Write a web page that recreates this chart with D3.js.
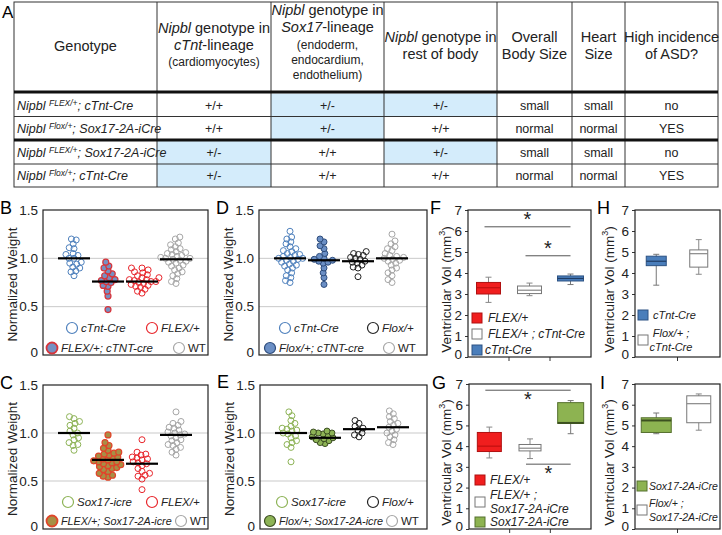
<!DOCTYPE html>
<html><head><meta charset="utf-8">
<script src="https://cdn.jsdelivr.net/npm/d3@7"></script>
<style>
body{margin:0;background:#fff;}
svg{display:block;font-family:"Liberation Sans",Arial,sans-serif;}
</style></head><body>
<svg id="c" width="722" height="535"></svg>
<script>
// ================= DATA =================
// Panel A table
const genoSup = ["FLEX/+", "Flox/+", "FLEX/+", "Flox/+"];
const genoCre = ["; cTnt-Cre", "; Sox17-2A-iCre", "; Sox17-2A-iCre", "; cTnt-Cre"];
const tableValues = [
  ["+/+", "+/-", "+/-", "small", "small", "no"],
  ["+/+", "+/-", "+/+", "normal", "normal", "YES"],
  ["+/-", "+/+", "+/-", "small", "small", "no"],
  ["+/-", "+/+", "+/+", "normal", "normal", "YES"]
];
// header lines: [ [text, italic], ... ] per line
const headerCols = [
  [[["Genotype", 0]]],
  [[["Nipbl", 1], [" genotype in", 0]], [["cTnt", 1], ["-lineage", 0]], [["(cardiomyocytes)", 0]]],
  [[["Nipbl", 1], [" genotype in", 0]], [["Sox17", 1], ["-lineage", 0]], [["(endoderm,", 0]], [["endocardium,", 0]], [["endothelium)", 0]]],
  [[["Nipbl", 1], [" genotype in", 0]], [["rest of body", 0]]],
  [[["Overall", 0]], [["Body Size", 0]]],
  [[["Heart", 0]], [["Size", 0]]],
  [[["High incidence", 0]], [["of ASD?", 0]]]
];

// Panel B
const groupsB = ["cTnt-Cre", "FLEX/+; cTNT-cre", "FLEX/+", "WT"];
const weightsB = [
  [1.2, 1.19, 1.15, 1.11, 1.1, 1.05, 1.04, 1.03, 1.0, 1.0, 0.96, 0.95, 0.94, 0.91, 0.9, 0.87, 0.86, 0.82],
  [0.96, 0.92, 0.9, 0.87, 0.84, 0.82, 0.8, 0.78, 0.77, 0.76, 0.75, 0.72, 0.71, 0.66, 0.61, 0.47],
  [0.9, 0.9, 0.88, 0.86, 0.85, 0.83, 0.82, 0.8, 0.8, 0.78, 0.78, 0.77, 0.76, 0.76, 0.75, 0.74, 0.73, 0.72, 0.71, 0.7, 0.68, 0.66, 0.64],
  [1.22, 1.2, 1.16, 1.14, 1.12, 1.1, 1.09, 1.07, 1.06, 1.05, 1.04, 1.03, 1.02, 1.01, 1.0, 1.0, 0.99, 0.98, 0.97, 0.96, 0.95, 0.93, 0.92, 0.9, 0.88, 0.86, 0.84, 0.82, 0.79, 0.76, 0.74]
];
const meansB = [1.0, 0.76, 0.76, 0.99];

// Panel D
const groupsD = ["cTnt-Cre", "Flox/+; cTNT-cre", "Flox/+", "WT"];
const weightsD = [
  [1.28, 1.22, 1.2, 1.17, 1.15, 1.12, 1.1, 1.08, 1.07, 1.05, 1.04, 1.03, 1.02, 1.01, 1.0, 1.0, 0.99, 0.98, 0.97, 0.96, 0.94, 0.93, 0.92, 0.9, 0.88, 0.85, 0.82, 0.8, 0.77, 0.75],
  [1.2, 1.17, 1.13, 1.1, 1.05, 1.02, 1.0, 0.99, 0.98, 0.97, 0.96, 0.95, 0.9, 0.85, 0.8, 0.73],
  [1.07, 1.05, 1.04, 1.03, 1.01, 1.0, 0.99, 0.97, 0.96, 0.95, 0.93, 0.91, 0.9, 0.81],
  [1.25, 1.18, 1.15, 1.12, 1.1, 1.08, 1.05, 1.03, 1.02, 1.01, 1.0, 0.99, 0.98, 0.97, 0.95, 0.93, 0.9, 0.88, 0.85, 0.82, 0.78, 0.75]
];
const meansD = [1.0, 0.98, 0.97, 1.0];

// Panel C
const groupsC = ["Sox17-icre", "FLEX/+; Sox17-2A-icre", "FLEX/+", "WT"];
const weightsC = [
  [1.17, 1.15, 1.12, 1.1, 1.08, 1.05, 1.02, 1.0, 0.98, 0.95, 0.93, 0.9, 0.88, 0.87, 0.82],
  [0.98, 0.9, 0.87, 0.84, 0.82, 0.8, 0.79, 0.78, 0.77, 0.76, 0.75, 0.74, 0.73, 0.72, 0.71, 0.7, 0.7, 0.69, 0.68, 0.67, 0.66, 0.65, 0.64, 0.63, 0.62, 0.6, 0.58, 0.56, 0.55, 0.54],
  [0.93, 0.8, 0.78, 0.77, 0.75, 0.74, 0.73, 0.72, 0.7, 0.69, 0.68, 0.66, 0.63, 0.6, 0.58, 0.56, 0.55, 0.52, 0.41],
  [1.22, 1.12, 1.1, 1.08, 1.06, 1.05, 1.03, 1.01, 1.0, 0.99, 0.98, 0.97, 0.95, 0.93, 0.92, 0.9, 0.88, 0.87, 0.85, 0.83, 0.8, 0.77]
];
const meansC = [1.0, 0.72, 0.68, 0.98];

// Panel E
const groupsE = ["Sox17-icre", "Flox/+; Sox17-2A-icre", "Flox/+", "WT"];
const weightsE = [
  [1.22, 1.18, 1.13, 1.1, 1.07, 1.05, 1.04, 1.03, 1.02, 1.0, 0.99, 0.97, 0.95, 0.92, 0.9, 0.88, 0.85, 0.7],
  [1.02, 1.01, 1.0, 1.0, 0.99, 0.97, 0.96, 0.95, 0.94, 0.93, 0.92, 0.9, 0.89],
  [1.13, 1.1, 1.07, 1.05, 1.03, 1.0, 0.98, 0.96],
  [1.23, 1.2, 1.17, 1.15, 1.12, 1.1, 1.08, 1.06, 1.04, 1.02, 1.0, 0.98, 0.96, 0.93, 0.9, 0.88]
];
const meansE = [1.0, 0.95, 1.04, 1.06];

const weightTicks = [0, 0.5, 1.0, 1.5];
const volTicks = [0, 1, 2, 3, 4, 5, 6, 7];

// Panel F  (min, q1, median, q3, max)
const catsF = ["FLEX/+", "FLEX/+ ; cTnt-Cre", "cTnt-Cre"];
const boxF = [
  [2.6, 3.0, 3.3, 3.55, 3.8],
  [2.92, 3.02, 3.18, 3.38, 3.52],
  [3.45, 3.62, 3.74, 3.86, 3.95]
];
// Panel G
const catsG = ["FLEX/+", "FLEX/+ ;\nSox17-2A-iCre", "Sox17-2A-iCre"];
const boxG = [
  [3.43, 3.74, 4.0, 4.66, 4.92],
  [3.4, 3.77, 3.9, 4.08, 4.35],
  [4.6, 5.1, 5.12, 6.1, 6.2]
];
// Panel H
const catsH = ["cTnt-Cre", "Flox/+ ;\ncTnt-Cre"];
const boxH = [
  [3.42, 4.35, 4.56, 4.8, 4.89],
  [3.94, 4.28, 4.92, 5.1, 5.59]
];
// Panel I
const catsI = ["Sox17-2A-iCre", "Flox/+ ;\nSox17-2A-iCre"];
const boxI = [
  [4.6, 4.66, 5.24, 5.37, 5.6],
  [4.77, 5.13, 6.05, 6.43, 6.52]
];

// ================= DRAW =================
const svg = d3.select("#c");

// ---------- Panel A: table ----------
const colX = [14, 157, 271, 384, 497, 572, 625, 718];
const tTop = 2, hdrBottom = 92, rowH = 23;
const rowTop = [93.5, 116.5, 141, 164];
const tBottom = 187;
const lightBlue = "#d4ecfb";

svg.append("text").attr("x", 2).attr("y", 18).attr("font-size", 17).text("A");

const tg = svg.append("g");
tableValues.forEach((row, r) => {
  row.forEach((v, c) => {
    const ci = c + 1;
    if (ci <= 3 && v === "+/-") {
      tg.append("rect").attr("x", colX[ci]).attr("y", rowTop[r])
        .attr("width", colX[ci + 1] - colX[ci]).attr("height", rowH).attr("fill", lightBlue);
    }
    tg.append("text").attr("x", (colX[ci] + colX[ci + 1]) / 2).attr("y", rowTop[r] + rowH / 2 + 4.5)
      .attr("text-anchor", "middle").attr("font-size", 12.5).attr("fill", "#222").text(v);
  });
  const t = tg.append("text").attr("x", 17).attr("y", rowTop[r] + rowH / 2 + 4.5)
    .attr("font-size", 12.5).attr("font-style", "italic").attr("fill", "#222");
  t.append("tspan").text("Nipbl\u00a0");
  t.append("tspan").attr("font-size", 8.5).attr("dy", -4).text(genoSup[r]);
  t.append("tspan").attr("dy", 4).text(genoCre[r]);
});
// borders
tg.append("rect").attr("x", colX[0]).attr("y", tTop).attr("width", colX[7] - colX[0])
  .attr("height", tBottom - tTop).attr("fill", "none").attr("stroke", "#333").attr("stroke-width", 1);
colX.slice(1, 7).forEach(x => tg.append("line").attr("x1", x).attr("x2", x).attr("y1", tTop).attr("y2", tBottom)
  .attr("stroke", "#333").attr("stroke-width", 1));
tg.append("line").attr("x1", colX[0]).attr("x2", colX[7]).attr("y1", hdrBottom).attr("y2", hdrBottom)
  .attr("stroke", "#111").attr("stroke-width", 3);
tg.append("line").attr("x1", colX[0]).attr("x2", colX[7]).attr("y1", 116.5).attr("y2", 116.5)
  .attr("stroke", "#333").attr("stroke-width", 1);
tg.append("line").attr("x1", colX[0]).attr("x2", colX[7]).attr("y1", 140).attr("y2", 140)
  .attr("stroke", "#111").attr("stroke-width", 3);
tg.append("line").attr("x1", colX[0]).attr("x2", colX[7]).attr("y1", 164).attr("y2", 164)
  .attr("stroke", "#333").attr("stroke-width", 1);
// header text
const hdrLineY = [
  [51],
  [33, 50, 66],
  [15, 32, 49, 64, 79],
  [42, 59],
  [42, 59],
  [42, 59],
  [42, 59]
];
headerCols.forEach((lines, c) => {
  const cx = (colX[c] + colX[c + 1]) / 2;
  lines.forEach((segs, i) => {
    const small = (c === 1 && i === 2) || (c === 2 && i >= 2);
    const t = tg.append("text").attr("x", cx).attr("y", hdrLineY[c][i])
      .attr("text-anchor", "middle").attr("font-size", small ? 12 : 14.5).attr("fill", "#222");
    segs.forEach(s => t.append("tspan").attr("font-style", s[1] ? "italic" : "normal").text(s[0]));
  });
});

// ---------- swarm helper ----------
function swarm(vals, y, d) {
  const pts = vals.map(v => ({ v, y: y(v), x: 0 })).sort((a, b) => a.v - b.v);
  const placed = [];
  for (const p of pts) {
    const ints = [];
    for (const q of placed) {
      const dy = Math.abs(q.y - p.y);
      if (dy < d) { const dx = Math.sqrt(d * d - dy * dy); ints.push([q.x - dx, q.x + dx]); }
    }
    const cands = [0];
    ints.forEach(([a, b]) => cands.push(a, b));
    cands.sort((a, b) => Math.abs(a) - Math.abs(b));
    for (const c of cands) {
      if (ints.every(([a, b]) => c <= a + 1e-6 || c >= b - 1e-6)) { p.x = c; break; }
    }
    placed.push(p);
  }
  return pts;
}

// ---------- dot panels ----------
function dotPanel(cfg) {
  const { x0, x1, y0, y1, groups, values, means, styles, letter, lx, ly, legend } = cfg;
  const g = svg.append("g");
  const y = d3.scaleLinear().domain([0, 1.5]).range([y1, y0]);
  const x = d3.scalePoint().domain(groups).range([x0 + 31, x0 + 133]);
  // grid
  [0.5, 1.0].forEach(v => g.append("line").attr("x1", x0).attr("x2", x1).attr("y1", y(v)).attr("y2", y(v))
    .attr("stroke", "#c9c9c9").attr("stroke-width", 1));
  // axis labels
  const ax = g.append("g").attr("transform", `translate(${x0},0)`)
    .call(d3.axisLeft(y).tickValues(weightTicks).tickSize(0).tickPadding(5)
      .tickFormat(d => d === 0 ? "0" : d3.format(".1f")(d)));
  ax.select(".domain").remove();
  ax.selectAll("text").attr("font-size", 13.5).attr("fill", "#222")
    .attr("font-family", '"Liberation Sans", Arial, sans-serif');
  ax.selectAll(".tick").filter(d => d === 0).select("text").attr("dy", "0.1em");
  // y title
  g.append("text").attr("transform", `translate(${x0 - 26},${(y0 + y1) / 2 + 2}) rotate(-90)`)
    .attr("text-anchor", "middle").attr("font-size", 13.5).attr("fill", "#222").text("Normalized Weight");
  // dots
  groups.forEach((gname, i) => {
    const pts = swarm(values[i], y, 4.9);
    g.append("g").selectAll("circle").data(pts).join("circle")
      .attr("cx", d => x(gname) + d.x).attr("cy", d => d.y).attr("r", 3)
      .attr("fill", styles[i].fill).attr("stroke", styles[i].stroke).attr("stroke-width", styles[i].sw || 1);
    g.append("line").attr("x1", x(gname) - 16).attr("x2", x(gname) + 16)
      .attr("y1", y(means[i])).attr("y2", y(means[i])).attr("stroke", "#000").attr("stroke-width", 2.2);
  });
  // frame
  g.append("rect").attr("x", x0).attr("y", y0).attr("width", x1 - x0).attr("height", y1 - y0)
    .attr("fill", "none").attr("stroke", "#222").attr("stroke-width", 1.2);
  // letter
  svg.append("text").attr("x", lx).attr("y", ly).attr("font-size", 18).text(letter);
  // legend
  legend.forEach(([gi, cx, cy, fs]) => {
    const s = styles[gi];
    g.append("circle").attr("cx", cx).attr("cy", cy).attr("r", 5.5)
      .attr("fill", s.fill).attr("stroke", s.stroke).attr("stroke-width", s.lsw || 1.2);
    g.append("text").attr("x", cx + 9).attr("y", cy + 4).attr("font-size", fs || 11.5)
      .attr("font-style", groups[gi] === "WT" ? "normal" : "italic").attr("fill", "#222").text(groups[gi]);
  });
}

const blueO = { fill: "none", stroke: "#4f81bd" };
const redO = { fill: "none", stroke: "#e8262c" };
const grayO = { fill: "none", stroke: "#a6a6a6" };
const blackO = { fill: "none", stroke: "#222" };
const greenO = { fill: "none", stroke: "#8db356" };

dotPanel({ x0: 43, x1: 208, y0: 210, y1: 355, groups: groupsB, values: weightsB, means: meansB,
  styles: [blueO, { fill: "#7690c2", stroke: "#d8343a", sw: 1.2, lsw: 1.8 }, redO, grayO],
  letter: "B", lx: 0, ly: 214,
  legend: [[0, 72, 328], [2, 152, 328], [1, 52, 348], [3, 179, 348]] });

dotPanel({ x0: 259, x1: 427, y0: 210, y1: 355, groups: groupsD, values: weightsD, means: meansD,
  styles: [blueO, { fill: "#6b8fc5", stroke: "#2d4c7c", sw: 1, lsw: 1.2 }, blackO, grayO],
  letter: "D", lx: 216, ly: 214,
  legend: [[0, 285, 328], [2, 373, 328], [1, 270, 348], [3, 389, 348]] });

dotPanel({ x0: 43, x1: 208, y0: 385, y1: 529, groups: groupsC, values: weightsC, means: meansC,
  styles: [greenO, { fill: "#a78f45", stroke: "#e0452a", sw: 1.2, lsw: 1.8, }, redO, grayO],
  letter: "C", lx: 0, ly: 389,
  legend: [[0, 68, 502], [2, 152, 502], [1, 52, 521, 10.8], [3, 181, 521]] });

dotPanel({ x0: 260, x1: 427, y0: 385, y1: 529, groups: groupsE, values: weightsE, means: meansE,
  styles: [greenO, { fill: "#8db356", stroke: "#3b4d22", sw: 1, lsw: 1.2 }, blackO, grayO],
  letter: "E", lx: 217, ly: 388,
  legend: [[0, 282, 502], [2, 373, 502], [1, 270, 521, 10.8], [3, 392, 521]] });

// ---------- box panels ----------
function boxPanel(cfg) {
  const { x0, x1, y0, y1, cats, boxes, styles, bw, letter, lx, ly, tx, sig, legend } = cfg;
  const g = svg.append("g");
  const y = d3.scaleLinear().domain([0, 7]).range([y1, y0]);
  const x = d3.scaleBand().domain(cats).range([x0, x1]);
  const ax = g.append("g").attr("transform", `translate(${x0},0)`)
    .call(d3.axisLeft(y).tickValues(volTicks).tickSize(3).tickPadding(3).tickFormat(d3.format("d")));
  ax.select(".domain").remove();
  ax.selectAll("text").attr("font-size", 13.5).attr("fill", "#222")
    .attr("font-family", '"Liberation Sans", Arial, sans-serif');
  ax.selectAll("line").attr("stroke", "#333");
  ax.selectAll(".tick").filter(d => d === 0).select("text").attr("dy", "0.1em");
  // x ticks at band boundaries
  cats.slice(1).forEach(c => g.append("line").attr("x1", x(c)).attr("x2", x(c)).attr("y1", y1).attr("y2", y1 + 4)
    .attr("stroke", "#333"));
  // y title
  const t = g.append("text").attr("transform", `translate(${tx},${(y0 + y1) / 2 + 6}) rotate(-90)`)
    .attr("text-anchor", "middle").attr("font-size", 13.5).attr("fill", "#222");
  t.append("tspan").text("Ventricular Vol (mm");
  t.append("tspan").attr("font-size", 9).attr("dy", -6).text("3");
  t.append("tspan").attr("dy", 6).text(")");
  // boxes
  cats.forEach((c, i) => {
    const [mn, q1, md, q3, mx] = boxes[i];
    const cx = x(c) + x.bandwidth() / 2;
    const s = styles[i];
    g.append("line").attr("x1", cx).attr("x2", cx).attr("y1", y(mn)).attr("y2", y(mx))
      .attr("stroke", s.wh).attr("stroke-width", 1);
    [mn, mx].forEach(v => g.append("line").attr("x1", cx - 3).attr("x2", cx + 3).attr("y1", y(v)).attr("y2", y(v))
      .attr("stroke", s.wh).attr("stroke-width", 1));
    g.append("rect").attr("x", cx - bw[i] / 2).attr("y", y(q3)).attr("width", bw[i]).attr("height", y(q1) - y(q3))
      .attr("fill", s.fill).attr("stroke", s.stroke).attr("stroke-width", 1);
    g.append("line").attr("x1", cx - bw[i] / 2).attr("x2", cx + bw[i] / 2).attr("y1", y(md)).attr("y2", y(md))
      .attr("stroke", s.med).attr("stroke-width", s.mw || 1.2);
  });
  // significance
  (sig || []).forEach(([a, b, v, above]) => {
    const xa = x(cats[a]) + x.bandwidth() / 2 - 4, xb = x(cats[b]) + x.bandwidth() / 2;
    g.append("line").attr("x1", xa).attr("x2", xb).attr("y1", y(v)).attr("y2", y(v))
      .attr("stroke", "#555").attr("stroke-width", 1);
    g.append("text").attr("x", (xa + xb) / 2).attr("y", above ? y(v) - 1 : y(v) + 16)
      .attr("text-anchor", "middle").attr("font-size", 20).attr("fill", "#222").text("*");
  });
  // frame
  g.append("rect").attr("x", x0).attr("y", y0).attr("width", x1 - x0).attr("height", y1 - y0)
    .attr("fill", "none").attr("stroke", "#222").attr("stroke-width", 1.2);
  svg.append("text").attr("x", lx).attr("y", ly).attr("font-size", 18).text(letter);
  // legend
  legend.forEach(([i, sx, sy, tx2, anchor]) => {
    const s = styles[i];
    g.append("rect").attr("x", sx).attr("y", sy - 5).attr("width", 10).attr("height", 10)
      .attr("fill", s.fill).attr("stroke", s.lstroke || s.stroke).attr("stroke-width", 1);
    const lines = cats[i].split("\n");
    lines.forEach((ln, k) => {
      g.append("text").attr("x", tx2).attr("y", sy + 4 + (k - (lines.length - 1) / 2) * 14.5)
        .attr("text-anchor", anchor || "start").attr("font-size", cfg.lfs || 12).attr("font-style", "italic")
        .attr("fill", "#222").text(ln);
    });
  });
}

const redB = { fill: "#f01e1e", stroke: "#b01010", wh: "#888", med: "#c01010" };
const whiteB = { fill: "#fff", stroke: "#777", wh: "#888", med: "#888" };
const blueB = { fill: "#4a7ebb", stroke: "#2c5283", wh: "#777", med: "#1f3d66", lstroke: "#2c5283" };
const greenB = { fill: "#8db351", stroke: "#55702e", wh: "#777", med: "#3c5020", mw: 2 };

boxPanel({ x0: 468, x1: 591, y0: 210, y1: 357, cats: catsF, boxes: boxF, styles: [redB, whiteB, blueB],
  bw: [24, 24, 26], letter: "F", lx: 430, ly: 214, tx: 451,
  sig: [[0, 2, 6.2, true], [1, 2, 4.82, true]],
  legend: [[0, 472, 318, 488], [1, 472, 334, 488], [2, 472, 350, 485]] });

boxPanel({ x0: 469, x1: 591, y0: 384, y1: 529, cats: catsG, boxes: boxG, styles: [redB, whiteB, greenB],
  bw: [24, 22, 26], letter: "G", lx: 432, ly: 389, tx: 451,
  sig: [[0, 2, 6.7, false], [1, 2, 3.13, false]],
  legend: [[0, 475, 480, 490], [1, 475, 502, 490], [2, 475, 522, 490]] });

boxPanel({ x0: 635, x1: 720, y0: 210, y1: 357, cats: catsH, boxes: boxH, styles: [blueB, whiteB],
  bw: [20, 18], letter: "H", lx: 597, ly: 214, tx: 614, lfs: 11,
  legend: [[0, 638, 315, 653], [1, 638, 340, 671, "middle"]] });

boxPanel({ x0: 635, x1: 720, y0: 384, y1: 529, cats: catsI, boxes: boxI, styles: [greenB, whiteB],
  bw: [30, 24], letter: "I", lx: 600, ly: 389, tx: 614, lfs: 10.5,
  legend: [[0, 637, 486, 649], [1, 637, 510, 649]] });
</script>
</body></html>
